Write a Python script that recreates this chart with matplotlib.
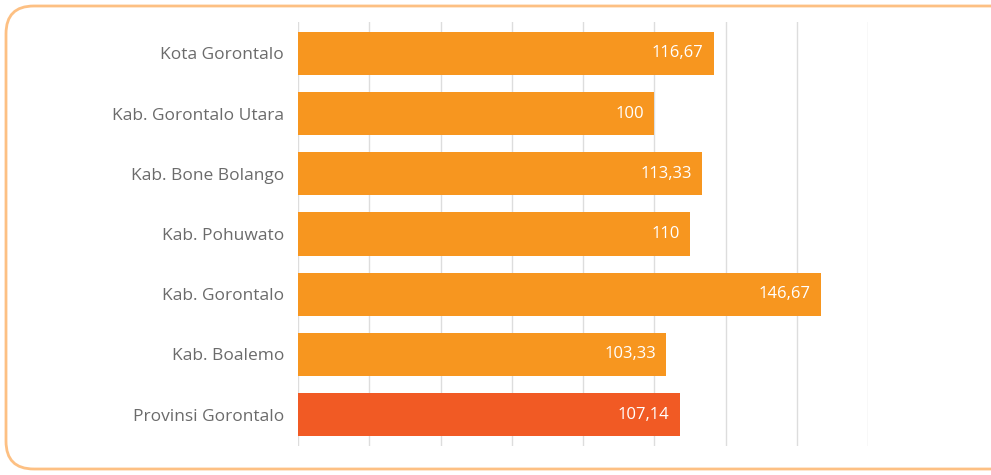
import matplotlib.pyplot as plt
from matplotlib.patches import FancyBboxPatch

regions = ["Kota Gorontalo", "Kab. Gorontalo Utara", "Kab. Bone Bolango",
           "Kab. Pohuwato", "Kab. Gorontalo", "Kab. Boalemo", "Provinsi Gorontalo"]
values = [116.67, 100, 113.33, 110, 146.67, 103.33, 107.14]
labels = ["116,67", "100", "113,33", "110", "146,67", "103,33", "107,14"]
colors = ["#F7961F"] * 6 + ["#F15A24"]

plt.rcParams['font.family'] = ['Open Sans', 'DejaVu Sans']

fig = plt.figure(figsize=(9.91, 4.75), dpi=100)

# rounded border round the whole chart
box = FancyBboxPatch((6 / 991, 6 / 475), 1.2, 1 - 12 / 475,
                     boxstyle="round,pad=0,rounding_size=0.028",
                     transform=fig.transFigure, facecolor="none",
                     edgecolor="#FDC083", linewidth=2,
                     mutation_aspect=991 / 475, zorder=-1)
fig.patches.append(box)

ax = fig.add_axes([298 / 991, 1 - 446 / 475, 570 / 991, 424 / 475])
ax.set_facecolor("none")
y = list(range(len(regions)))
ax.barh(y, values, height=0.72, color=colors, zorder=3)

for yi, v, lab in zip(y, values, labels):
    ax.text(v - 2.8, yi, lab, ha="right", va="center", color="white",
            fontsize=12, zorder=4)

ax.set_xlim(0, 160)
ax.set_ylim(6.52, -0.52)
ax.set_xticks(range(0, 161, 20))
ax.set_yticks(y)
ax.set_yticklabels(regions, fontsize=12.5, color="#6B6B6B")
ax.tick_params(axis="y", length=0, pad=10)
ax.tick_params(axis="x", length=0, labelbottom=False)
ax.grid(axis="x", color="#DDDDDD", linewidth=1, zorder=0)
for s in ax.spines.values():
    s.set_visible(False)

fig.savefig("out.png", dpi=100)
